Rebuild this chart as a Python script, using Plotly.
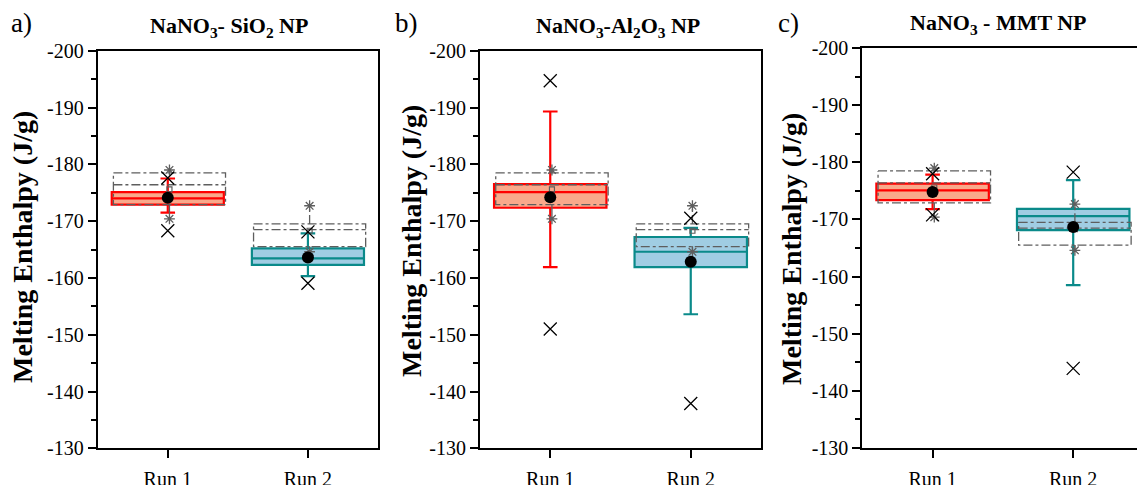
import plotly.graph_objects as go

# ---------------- data ----------------
panel_letters = ["a)", "b)", "c)"]
panel_titles = [
    "<b>NaNO<sub>3</sub>- SiO<sub>2</sub> NP</b>",
    "<b>NaNO<sub>3</sub>-Al<sub>2</sub>O<sub>3</sub> NP</b>",
    "<b>NaNO<sub>3</sub> - MMT NP</b>",
]
runs = ["Run 1", "Run 2"]
run_pos = [1, 2]
y_tick_vals = [-200, -190, -180, -170, -160, -150, -140, -130]
y_tick_text = ["-200", "-190", "-180", "-170", "-160", "-150", "-140", "-130"]
y_title = "<b>Melting Enthalpy (J/g)</b>"

# nanocomposite samples (one row per panel, one value per run)
box_q1 = [[-175.1, -165.2], [-176.5, -167.2], [-176.3, -171.85]]
box_median = [[-174.0, -163.45], [-175.1, -164.6], [-175.1, -170.6]]
box_q3 = [[-172.9, -162.3], [-172.35, -161.9], [-173.4, -168.15]]
whisker_low = [[-177.5, -167.85], [-189.3, -168.8], [-177.85, -176.9]]
whisker_high = [[-171.5, -160.3], [-161.9, -153.6], [-171.8, -158.5]]
box_mean = [[-174.1, -163.6], [-174.2, -162.85], [-174.8, -168.7]]
data_min = [[-177.6, -168.1], [-194.7, -170.5], [-178.0, -178.3]]
data_max = [[-168.3, -159.05], [-151.0, -137.9], [-170.8, -143.9]]

# pure NaNO3 reference (dash-dot boxes, same in every panel)
ref_q1 = [-178.5, -169.5]
ref_median = [-176.4, -168.5]
ref_q3 = [-172.9, -165.5]
ref_mean = [-175.6, -168.3]
ref_min = [-179.0, -172.7]
ref_max = [-170.4, -164.6]

# ---------------- style ----------------
W, H = 1137, 485
FONT = "Liberation Serif, Times New Roman, Times, serif"
edge_colors = ["#FF0000", "#0A8A8A"]
fill_colors = ["#F9A98B", "#A0CDE3"]
ref_color = "#5E5E5E"
box_w = 0.8

# pixel geometry of the three plot areas: (left, right, top, bottom)
px_areas = [(97.7, 378.0, 50.7, 448.3), (480.0, 761.0, 50.7, 448.3), (862.3, 1137.0, 48.3, 447.7)]
x_ranges = [[0.5, 2.5], [0.5, 2.5], [0.5, 0.5 + (1137.0 - 862.3) / 140.6]]

fig = go.Figure()

for p in range(3):
    xa = "x" if p == 0 else f"x{p+1}"
    ya = "y" if p == 0 else f"y{p+1}"
    # coloured sample boxes
    for r in range(2):
        fig.add_trace(go.Box(
            x=[run_pos[r]], q1=[box_q1[p][r]], median=[box_median[p][r]], q3=[box_q3[p][r]],
            lowerfence=[whisker_low[p][r]], upperfence=[whisker_high[p][r]],
            width=box_w, whiskerwidth=0.13, fillcolor=fill_colors[r],
            line=dict(color=edge_colors[r], width=2.2), boxpoints=False,
            showlegend=False, hoverinfo="skip", xaxis=xa, yaxis=ya,
        ))
    # dash-dot reference boxes
    for r in range(2):
        c = run_pos[r] + 0.012
        x0, x1 = c - box_w / 2, c + box_w / 2
        xs = [x0, x1, x1, x0, x0, None, x0, x1, None, c, c, None, c, c]
        ys = [ref_q1[r], ref_q1[r], ref_q3[r], ref_q3[r], ref_q1[r], None,
              ref_median[r], ref_median[r], None,
              ref_q1[r], ref_min[r], None, ref_q3[r], ref_max[r]]
        fig.add_trace(go.Scatter(
            x=xs, y=ys, mode="lines",
            line=dict(color=ref_color, width=1.3, dash="dashdot"),
            showlegend=False, hoverinfo="skip", xaxis=xa, yaxis=ya,
        ))
        fig.add_trace(go.Scatter(
            x=[c, c], y=[ref_min[r], ref_max[r]], mode="markers",
            marker=dict(symbol="asterisk-open", size=9, color=ref_color,
                        line=dict(color=ref_color, width=1.3)),
            showlegend=False, hoverinfo="skip", xaxis=xa, yaxis=ya,
        ))
        fig.add_trace(go.Scatter(
            x=[c], y=[ref_mean[r]], mode="markers",
            marker=dict(symbol="square-open", size=5, color=ref_color,
                        line=dict(color=ref_color, width=1.2)),
            showlegend=False, hoverinfo="skip", xaxis=xa, yaxis=ya,
        ))
    # sample min / max crosses and mean dots
    fig.add_trace(go.Scatter(
        x=run_pos + run_pos, y=data_min[p] + data_max[p], mode="markers",
        marker=dict(symbol="x-thin-open", size=13, color="black",
                    line=dict(color="black", width=1.3)),
        showlegend=False, hoverinfo="skip", xaxis=xa, yaxis=ya,
    ))
    fig.add_trace(go.Scatter(
        x=run_pos, y=box_mean[p], mode="markers",
        marker=dict(symbol="circle", size=12, color="black"),
        showlegend=False, hoverinfo="skip", xaxis=xa, yaxis=ya,
    ))

layout = dict(
    template="none",
    width=W, height=H, margin=dict(l=0, r=0, t=0, b=0, autoexpand=False),
    paper_bgcolor="white", plot_bgcolor="white", showlegend=False,
    font=dict(family=FONT, color="black", size=20),
)
annotations = []
for p in range(3):
    L, R, T, B = px_areas[p]
    xkey = "xaxis" if p == 0 else f"xaxis{p+1}"
    ykey = "yaxis" if p == 0 else f"yaxis{p+1}"
    yanchor_name = "y" if p == 0 else f"y{p+1}"
    xanchor_name = "x" if p == 0 else f"x{p+1}"
    layout[xkey] = dict(
        domain=[L / W, min(R / W, 1.0)], range=x_ranges[p], anchor=yanchor_name,
        tickvals=run_pos, ticktext=runs, ticks="outside", ticklen=8, tickwidth=2,
        tickcolor="black", showline=True, linewidth=2, linecolor="black",
        mirror=True, showgrid=False, zeroline=False, automargin=False,
        tickfont=dict(family=FONT, size=20, color="black"), ticklabelstandoff=4,
    )
    layout[ykey] = dict(
        domain=[(H - B) / H, (H - T) / H], range=[-130, -200], anchor=xanchor_name,
        tickvals=y_tick_vals, ticktext=y_tick_text, ticks="outside", ticklen=8,
        tickwidth=2, tickcolor="black",
        minor=dict(dtick=5, tick0=-200, ticks="outside", ticklen=5, tickwidth=1.5,
                   tickcolor="black", showgrid=False),
        showline=True, linewidth=2, linecolor="black", mirror=(p < 2),
        showgrid=False, zeroline=False, automargin=False,
        tickfont=dict(family=FONT, size=20, color="black"),
    )

title_x = [229, 618, 998]
title_y = [27, 27, 24]
letter_x = [21, 406, 788]
ytitle_x = [23, 411, 792]
ytitle_y = [247, 241, 249]
for p in range(3):
    annotations.append(dict(
        text=panel_titles[p], x=title_x[p] / W, y=1 - title_y[p] / H,
        xref="paper", yref="paper", xanchor="center", yanchor="middle",
        showarrow=False, font=dict(family=FONT, size=22, color="black"),
    ))
    annotations.append(dict(
        text=panel_letters[p], x=letter_x[p] / W, y=1 - 23 / H,
        xref="paper", yref="paper", xanchor="center", yanchor="middle",
        showarrow=False, font=dict(family=FONT, size=27, color="black"),
    ))
    annotations.append(dict(
        text=y_title, x=ytitle_x[p] / W, y=1 - ytitle_y[p] / H, textangle=-90,
        xref="paper", yref="paper", xanchor="center", yanchor="middle",
        showarrow=False, font=dict(family=FONT, size=28, color="black"),
    ))
layout["annotations"] = annotations
fig.update_layout(**layout)

fig.write_html("out.html")
